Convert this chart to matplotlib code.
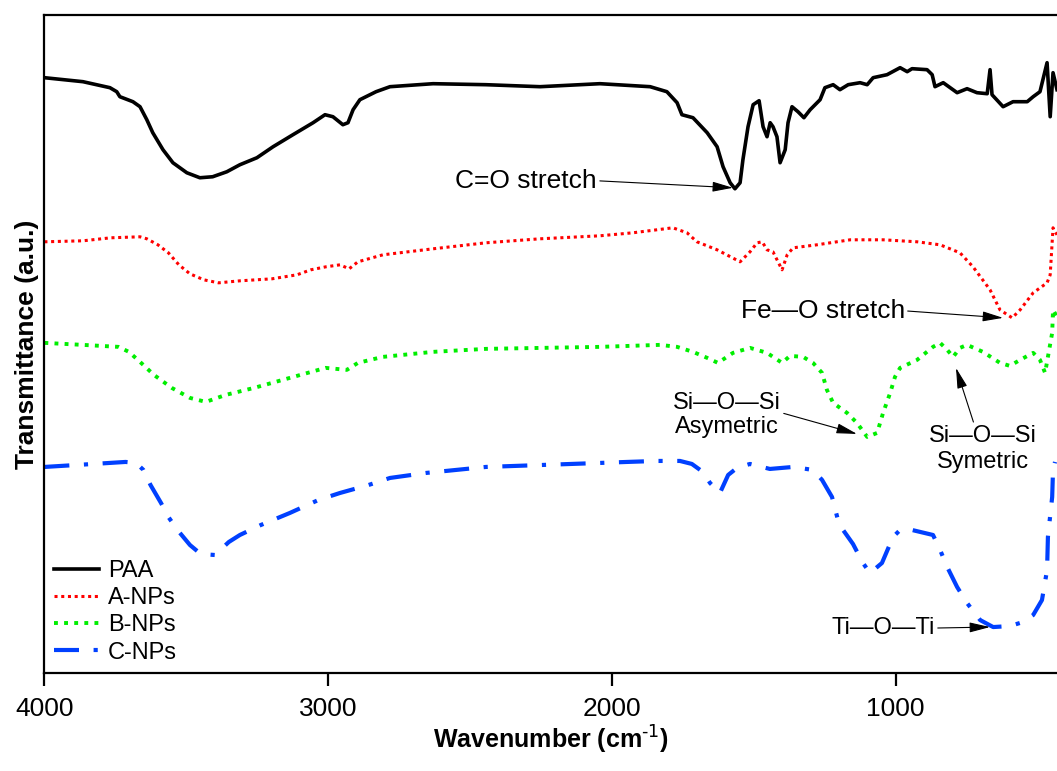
import numpy as np
import matplotlib
matplotlib.use('Agg')
import matplotlib.pyplot as plt

plt.rcParams['font.family'] = ['Liberation Sans', 'DejaVu Sans']

# FTIR spectra (wavenumber in cm-1, transmittance in a.u., curves offset)
paa_wn = [4000, 3864, 3769, 3745, 3734, 3688, 3663, 3639, 3618, 3582, 3547, 3498, 3452, 3407,
          3357, 3311, 3251, 3194, 3124, 3053, 3011, 2983, 2948, 2930, 2912, 2888, 2831, 2782,
          2630, 2444, 2253, 2042, 1865, 1806, 1770, 1753,
          1714, 1664, 1629, 1608, 1583, 1566, 1548, 1538, 1520, 1502, 1481, 1467, 1453, 1442,
          1432, 1418, 1407, 1389, 1379, 1365, 1344, 1323, 1301, 1266, 1249, 1220, 1196, 1167,
          1125, 1100, 1079, 1030, 984, 959, 942, 889, 871, 861, 832, 783, 748, 713, 677, 667,
          660, 621, 586, 536, 515, 491, 466, 455, 445, 431]
paa_t = [59.5, 59.1, 58.5, 58.1, 57.6, 57.1, 56.6, 55.3, 54.0, 52.3, 51.0, 50.0, 49.5, 49.6,
         50.1, 50.8, 51.5, 52.6, 53.8, 55.0, 55.8, 55.6, 54.8, 55.0, 56.3, 57.3, 58.1, 58.6,
         58.9, 58.8, 58.6, 58.9, 58.6, 58.1, 57.0, 55.8,
         55.5, 54.0, 52.6, 50.6, 49.0, 48.4, 49.0, 51.3, 54.6, 56.8, 57.2, 54.6, 53.6, 55.0,
         54.6, 53.6, 51.0, 52.3, 55.0, 56.6, 56.1, 55.5, 56.3, 57.3, 58.5, 58.8, 58.3, 58.8,
         59.0, 58.8, 59.5, 59.8, 60.5, 60.1, 60.4, 60.3, 59.8, 58.6, 59.0, 58.0, 58.4, 58.0, 57.9, 60.3,
         57.8, 56.6, 57.1, 57.1, 57.6, 58.1, 61.0, 55.6, 60.0, 58.3]

a_wn = [4000, 3864, 3766, 3663, 3639, 3600, 3563, 3526, 3487, 3438, 3386, 3311, 3198, 3110,
        3061, 3008, 2958, 2926, 2895, 2807, 2630, 2444, 2253, 2042, 1926, 1785, 1735, 1700,
        1629, 1548, 1513, 1488, 1470, 1453, 1432, 1400, 1382, 1361, 1277, 1160, 1044, 924, 843,
        773, 727, 667, 632, 589, 561, 515, 466, 455, 445, 431]
a_t = [43.1, 43.2, 43.5, 43.6, 43.4, 42.8, 42.0, 40.8, 39.9, 39.3, 39.0, 39.2, 39.4, 39.8,
       40.3, 40.6, 40.8, 40.4, 41.1, 41.8, 42.4, 43.0, 43.4, 43.7, 44.0, 44.5, 44.0, 43.1,
       42.3, 41.1, 42.1, 43.0, 43.1, 42.3, 42.1, 40.3, 41.8, 42.5, 42.8, 43.3, 43.3, 43.1, 42.8,
       42.0, 40.6, 38.3, 36.3, 35.5, 36.3, 38.0, 39.0, 39.8, 44.5, 43.8]

b_wn = [4000, 3865, 3739, 3702, 3663, 3614, 3551, 3487, 3431, 3361, 3261, 3135, 3009, 2934,
        2895, 2807, 2631, 2444, 2042, 1830, 1770, 1714, 1664, 1626, 1573, 1513, 1453, 1400,
        1372, 1326, 1291, 1259, 1242, 1220, 1171, 1136, 1100, 1065, 1044, 1019, 1002, 984, 924,
        868, 843, 818, 797, 773, 748, 692, 632, 597, 561, 515, 491, 473, 463, 448, 445, 431]
b_t = [33.0, 32.8, 32.6, 32.1, 31.1, 29.8, 28.5, 27.5, 27.1, 27.8, 28.5, 29.5, 30.5, 30.3,
       31.0, 31.6, 32.1, 32.4, 32.6, 32.8, 32.6, 32.1, 31.5, 31.0, 32.0, 32.5, 32.0, 31.0,
       31.7, 31.6, 31.0, 30.0, 28.3, 27.0, 26.0, 25.0, 23.6, 24.0, 26.0, 28.0, 29.6, 30.5, 31.3,
       32.6, 33.0, 32.3, 31.6, 32.5, 32.8, 32.1, 31.0, 30.7, 31.3, 32.0, 31.3, 30.0, 31.6, 34.0,
       36.3, 35.6]

c_wn = [4000, 3827, 3714, 3677, 3651, 3626, 3589, 3563, 3531, 3487, 3449, 3399, 3350, 3311,
        3237, 3135, 3034, 2958, 2857, 2782, 2655, 2444, 2042, 1947, 1841, 1760, 1718, 1679,
        1654, 1619, 1590, 1559, 1513, 1443, 1361, 1291, 1259, 1224, 1203, 1185, 1150, 1115,
        1090, 1048, 1009, 984, 942, 868, 843, 818, 783, 748, 702, 656, 597, 551, 515, 484, 466,
        463, 448, 445, 438]
c_t = [20.6, 20.9, 21.1, 21.0, 20.3, 18.8, 17.0, 15.6, 14.3, 12.8, 11.9, 11.8, 13.1, 13.8,
       14.8, 16.0, 17.3, 18.0, 18.8, 19.5, 20.0, 20.6, 21.0, 21.1, 21.2, 21.2, 20.9, 20.1,
       19.0, 18.0, 19.8, 20.5, 20.9, 20.4, 20.6, 20.3, 19.3, 17.6, 15.3, 14.3, 12.9, 11.0,
       10.0, 11.0, 13.6, 14.3, 14.3, 13.8, 12.3, 10.6, 8.6, 7.0, 5.3, 4.6, 4.7, 5.1, 5.8, 7.3,
       10.3, 13.6, 17.6, 20.3, 21.1]

labels = ['PAA', 'A-NPs', 'B-NPs', 'C-NPs']
xticks = [4000, 3000, 2000, 1000]

fig = plt.figure(figsize=(10.57, 7.71), dpi=100)
ax = fig.add_axes([0.042, 0.127, 0.958, 0.854])

ax.plot(paa_wn, paa_t, color='black', lw=2.6, solid_joinstyle='round', label=labels[0])
ax.plot(a_wn, a_t, color='#ff0000', lw=2.2, linestyle=(0, (1, 1.2)), label=labels[1])
ax.plot(b_wn, b_t, color='#00ee00', lw=2.8, linestyle=(0, (1, 1.6)), label=labels[2])
ax.plot(c_wn, c_t, color='#0040ff', lw=3.0, linestyle=(0, (6, 3.5, 1, 3.5)), label=labels[3])

ax.set_xlim(4000, 431)
ax.set_ylim(0, 65.8)
ax.set_xticks(xticks)
ax.set_yticks([])
ax.tick_params(axis='x', direction='out', length=9, width=1.6, labelsize=19, pad=8)
for side in ['left', 'top', 'bottom']:
    ax.spines[side].set_linewidth(1.6)
ax.spines['right'].set_visible(False)

ax.set_xlabel('Wavenumber (cm$^{\\text{-1}}$)', fontsize=18, fontweight='bold', labelpad=2)
ax.set_ylabel('Transmittance (a.u.)', fontsize=19, fontweight='bold', labelpad=4)

# peak annotations
arrow = dict(arrowstyle='-|>,head_length=0.9,head_width=0.22', color='black', lw=0.8,
             mutation_scale=14, shrinkA=0, shrinkB=0)
ax.annotate('C=O stretch', xy=(1573, 48.5), xytext=(2052, 49.2), fontsize=19,
            ha='right', va='center', arrowprops=dict(arrow, relpos=(1, 0.5)))
ax.annotate('Fe\u2014O stretch', xy=(621, 35.5), xytext=(967, 36.2), fontsize=19,
            ha='right', va='center', arrowprops=dict(arrow, relpos=(1, 0.5)))
ax.annotate('Si\u2014O\u2014Si\nAsymetric', xy=(1136, 23.9), xytext=(1594, 25.8), fontsize=17,
            ha='center', va='center', linespacing=1.1,
            arrowprops=dict(arrow, relpos=(1, 0.55)))
ax.annotate('Si\u2014O\u2014Si\nSymetric', xy=(787, 30.5), xytext=(692, 22.4), fontsize=17,
            ha='center', va='center', linespacing=1.25,
            arrowprops=dict(arrow, relpos=(0.42, 1.0)))
ax.annotate('Ti\u2014O\u2014Ti', xy=(667, 4.6), xytext=(861, 4.5), fontsize=17,
            ha='right', va='center', arrowprops=dict(arrow, relpos=(1, 0.5)))

ax.legend(loc='lower left', fontsize=17, frameon=False, handlelength=1.9,
          handletextpad=0.4, labelspacing=0.22, borderaxespad=0.2, borderpad=0.2)

fig.savefig('out.png', dpi=100)
